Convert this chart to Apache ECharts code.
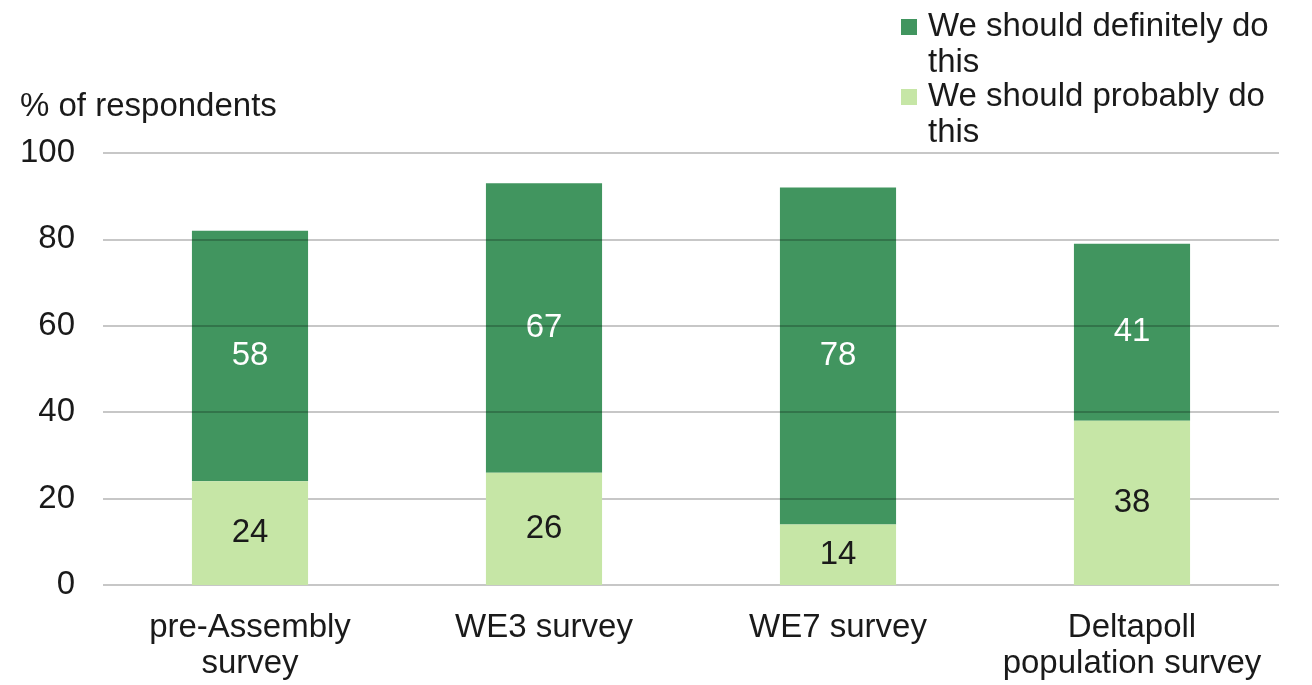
<!DOCTYPE html>
<html>
<head>
<meta charset="utf-8">
<script src="https://cdn.jsdelivr.net/npm/echarts@6/dist/echarts.min.js"></script>
<style>
html,body{margin:0;padding:0;background:#fff;}
#chart{width:1312px;height:685px;}
</style>
</head>
<body>
<div id="chart"></div>
<script>
const categories = ['pre-Assembly\nsurvey', 'WE3 survey', 'WE7 survey', 'Deltapoll\npopulation survey'];
const probably = [24, 26, 14, 38];
const definitely = [58, 67, 78, 41];
const yTicks = [0, 20, 40, 60, 80, 100];
const seriesNames = ['We should definitely do this', 'We should probably do this'];

const FONT = 'Liberation Sans, Arial, sans-serif';
const FS = 33;
const TXT = '#1a1a1a';
const chart = echarts.init(document.getElementById('chart'));
chart.setOption({
  animation: false,
  textStyle: { fontFamily: FONT },
  title: {
    text: '% of respondents',
    left: 20, top: 90, padding: 0,
    textStyle: { fontFamily: FONT, fontSize: FS, fontWeight: 'normal', color: TXT }
  },
  legend: {
    orient: 'vertical',
    left: 901, top: 9, padding: 0,
    data: seriesNames.slice(),
    icon: 'path://M0,0 M0,10h16v16h-16z M22,72',
    itemWidth: 22, itemHeight: 72,
    itemGap: -2,
    textStyle: {
      fontFamily: FONT, fontSize: FS, color: TXT,
      width: 360, overflow: 'break', lineHeight: 36
    }
  },
  grid: { left: 103, right: 33, top: 153, bottom: 100, containLabel: false },
  xAxis: {
    type: 'category',
    data: categories,
    axisLine: { show: false },
    axisTick: { show: false },
    axisLabel: { fontFamily: FONT, fontSize: FS, color: TXT, margin: 25, lineHeight: 36, interval: 0 }
  },
  yAxis: {
    type: 'value',
    min: yTicks[0], max: yTicks[yTicks.length - 1], interval: 20,
    z: 3,
    axisLine: { show: false },
    axisTick: { show: false },
    splitLine: { lineStyle: { color: 'rgba(0,0,0,0.22)', width: 2 } },
    axisLabel: { fontFamily: FONT, fontSize: FS, color: TXT, margin: 28 }
  },
  series: [
    {
      name: seriesNames[1], type: 'bar', stack: 'a', data: probably,
      barWidth: '39.5%',
      itemStyle: { color: '#c6e6a6' },
      label: { show: true, position: 'inside', fontFamily: FONT, fontSize: FS, color: TXT },
      z: 4
    },
    {
      name: seriesNames[0], type: 'bar', stack: 'a', data: definitely,
      barWidth: '39.5%',
      itemStyle: { color: '#41955f' },
      label: { show: true, position: 'inside', fontFamily: FONT, fontSize: FS, color: '#ffffff' }
    }
  ]
});
</script>
</body>
</html>
